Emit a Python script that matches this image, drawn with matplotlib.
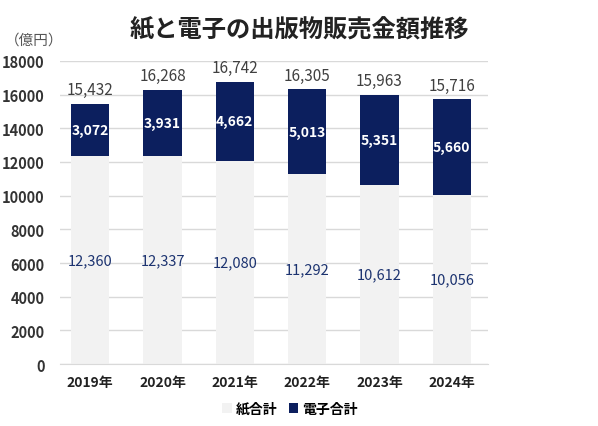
import matplotlib
matplotlib.use("Agg")
import matplotlib.pyplot as plt
import numpy as np

plt.rcParams['font.family'] = ['Noto Sans CJK JP', 'DejaVu Sans']

# データ
years = ["2019年", "2020年", "2021年", "2022年", "2023年", "2024年"]
paper = [12360, 12337, 12080, 11292, 10612, 10056]
digital = [3072, 3931, 4662, 5013, 5351, 5660]
totals = [15432, 16268, 16742, 16305, 15963, 15716]

PAPER_COLOR = "#f2f2f2"
DIGITAL_COLOR = "#0c1f5e"

fig = plt.figure(figsize=(5.98, 4.27), dpi=100)
ax = fig.add_axes([0.100, 0.145, 0.716, 0.710])

x = np.arange(len(years))
w = 0.53
ax.bar(x, paper, w, color=PAPER_COLOR, label="紙合計", zorder=2)
ax.bar(x, digital, w, bottom=paper, color=DIGITAL_COLOR, label="電子合計", zorder=2)

for i in range(len(years)):
    ax.text(x[i], paper[i] / 2, f"{paper[i]:,}", ha="center", va="center",
            fontsize=10.5, color="#1c3370")
    ax.text(x[i], paper[i] + digital[i] / 2, f"{digital[i]:,}", ha="center", va="center",
            fontsize=10, color="white", fontweight="bold")
    ax.text(x[i], totals[i] + 350, f"{totals[i]:,}", ha="center", va="bottom",
            fontsize=11, color="#404040")

ax.set_ylim(0, 18000)
ax.set_xlim(-0.42, 5.5)
ax.set_yticks(range(0, 18001, 2000))
ax.set_xticks(x)
ax.set_xticklabels(years, fontsize=10, fontweight="bold", color="#222222")
ax.tick_params(axis="y", labelsize=10.5, colors="#333333", length=0, pad=11)
ax.tick_params(axis="x", length=0, pad=8)
for lbl in ax.get_yticklabels():
    lbl.set_fontweight("bold")
ax.grid(axis="y", color="#d9d9d9", linewidth=1, zorder=0)
for s in ["top", "right", "left"]:
    ax.spines[s].set_visible(False)
ax.spines["bottom"].set_color("#d9d9d9")

fig.text(0.5, 0.928, "紙と電子の出版物販売金額推移", ha="center", va="center",
         fontsize=17.5, fontweight="bold", color="#222222")
fig.text(0.008, 0.905, "（億円）", ha="left", va="center", fontsize=10.5, color="#555555")

fig.legend(loc="center", bbox_to_anchor=(0.485, 0.04), ncol=2, frameon=False,
           handlelength=0.7, handleheight=0.7, handletextpad=0.3,
           columnspacing=0.8, prop={"weight": "bold", "size": 10})

fig.savefig("out.png", dpi=100)
